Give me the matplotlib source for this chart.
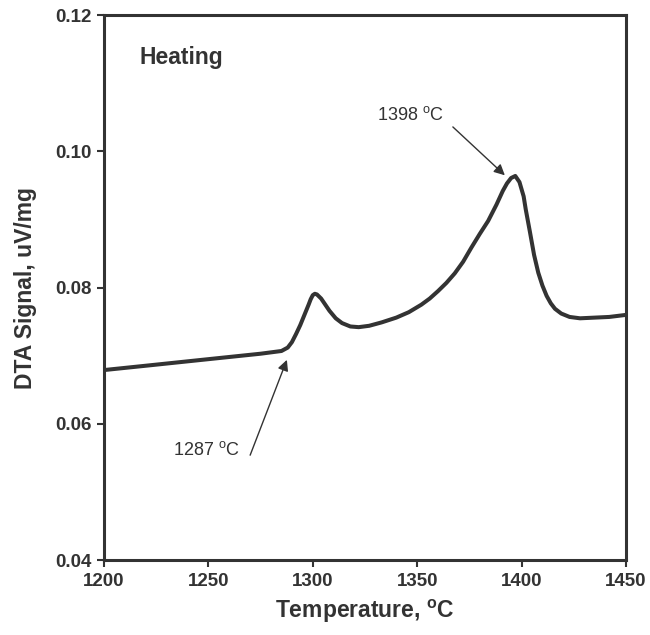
import matplotlib
matplotlib.use('Agg')
import matplotlib.pyplot as plt

plt.rcParams['font.family'] = ['Liberation Sans', 'DejaVu Sans']
plt.rcParams['mathtext.fontset'] = 'custom'
plt.rcParams['mathtext.rm'] = 'Liberation Sans'
plt.rcParams['mathtext.bf'] = 'Liberation Sans:bold'

# DTA heating curve
temp = [1200, 1222, 1250, 1275, 1285, 1288, 1290, 1292, 1294, 1296, 1298, 1299,
        1300, 1301, 1302, 1304, 1306, 1308, 1311, 1314, 1318, 1322, 1327, 1333,
        1340, 1346, 1352, 1356, 1360, 1364, 1368, 1372, 1376, 1380, 1384, 1388,
        1391, 1393, 1395, 1397, 1399, 1401, 1402, 1404, 1406, 1408, 1410, 1412,
        1414, 1416, 1419, 1423, 1428, 1435, 1442, 1450]
signal = [0.0679, 0.0686, 0.0695, 0.0703, 0.0707, 0.0712, 0.0720, 0.0732, 0.0745, 0.0760,
          0.0775, 0.0783, 0.0789, 0.0791, 0.0790, 0.0784, 0.0775, 0.0766, 0.0755, 0.0748,
          0.0743, 0.0742, 0.0744, 0.0749, 0.0756, 0.0764, 0.0775, 0.0784, 0.0795, 0.0807,
          0.0821, 0.0838, 0.0859, 0.0879, 0.0898, 0.0922, 0.0942, 0.0953, 0.0961, 0.0964,
          0.0955, 0.0934, 0.0915, 0.0882, 0.0848, 0.0822, 0.0803, 0.0788, 0.0777, 0.0769,
          0.0762, 0.0757, 0.0755, 0.0756, 0.0757, 0.0760]

xticks = [1200, 1250, 1300, 1350, 1400, 1450]
yticks = [0.04, 0.06, 0.08, 0.10, 0.12]
ytick_labels = ['0.04', '0.06', '0.08', '0.10', '0.12']

# onset / peak annotations: (label, text pos, arrow tail, arrow head)
notes = [
    ('1287 $^{\\rm o}$C', (1265.0, 0.0561), (1270.0, 0.0554), (1287.6, 0.0694), 'right'),
    ('1398 $^{\\rm o}$C', (1330.7, 0.1053), (1367.1, 0.1036), (1392.0, 0.0965), 'left'),
]

ink = '#333333'

fig = plt.figure(figsize=(6.5, 6.35), dpi=100)
ax = fig.add_axes([0.16, 0.118, 0.803, 0.858])

ax.plot(temp, signal, color=ink, lw=2.9, solid_capstyle='round', solid_joinstyle='round')

ax.set_xlim(1200, 1450)
ax.set_ylim(0.04, 0.12)
ax.set_xticks(xticks)
ax.set_yticks(yticks)
ax.set_yticklabels(ytick_labels)
ax.tick_params(direction='out', length=5, width=1.5, color=ink, labelsize=13.5,
               labelcolor=ink, pad=4)
for lab in ax.get_xticklabels() + ax.get_yticklabels():
    lab.set_fontweight('bold')
for sp in ax.spines.values():
    sp.set_linewidth(2.2)
    sp.set_color(ink)

ax.set_xlabel('Temperature, $\\mathbf{^o}$C', fontsize=16.5, fontweight='bold',
              color=ink, labelpad=6)
ax.set_ylabel('DTA Signal, uV/mg', fontsize=16.5, fontweight='bold', color=ink,
              labelpad=13)

ax.text(1217.2, 0.1138, 'Heating', fontsize=16.5, fontweight='bold', color=ink,
        va='center', ha='left')

for label, tpos, tail, head, ha in notes:
    ax.text(tpos[0], tpos[1], label, fontsize=13, color=ink, ha=ha, va='center')
    ax.annotate('', xy=head, xytext=tail,
                arrowprops=dict(arrowstyle='-|>', color=ink, lw=1.0,
                                mutation_scale=16, shrinkA=0, shrinkB=0))

fig.savefig('out.png', dpi=100)
